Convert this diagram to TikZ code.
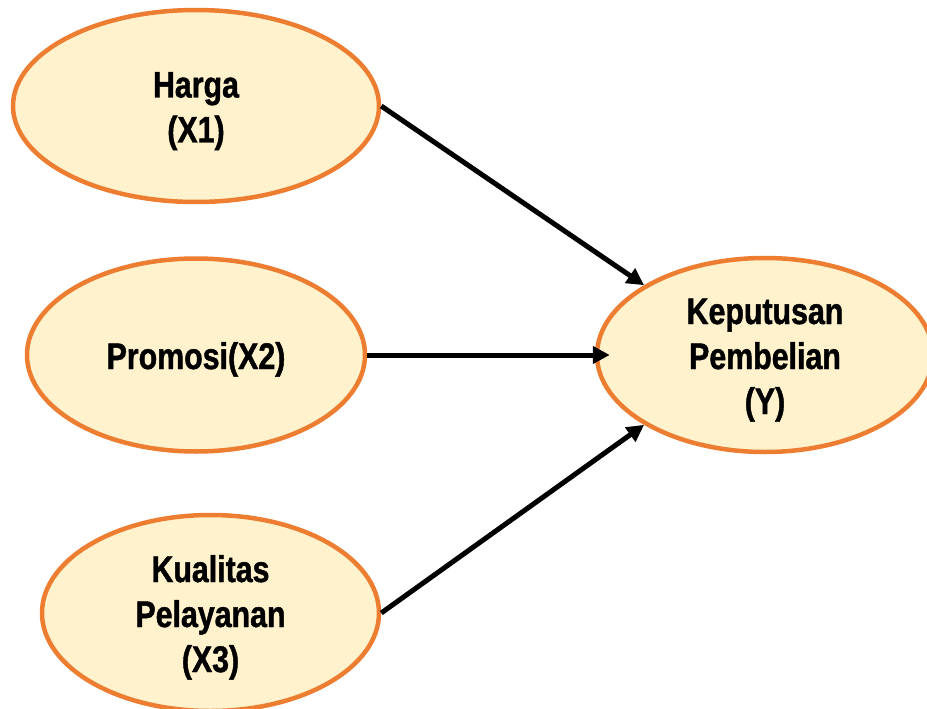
\documentclass[tikz,border=0pt]{standalone}
\usepackage{fontspec}
\newfontfamily\narrowfont[FakeStretch=0.82, BoldFeatures={FakeBold=1.2}]{Liberation Sans}
\usetikzlibrary{shapes.geometric,arrows.meta}
\definecolor{ellfill}{HTML}{FFF2CC}
\definecolor{elldraw}{HTML}{ED7D31}
\newcommand{\lbl}[1]{\raisebox{-5pt}[\height][\depth]{\begin{tabular}{@{}c@{}}#1\end{tabular}}}
\begin{document}
\begin{tikzpicture}[x=1pt,y=-1pt,
  varnode/.style={ellipse, draw=elldraw, fill=ellfill, line width=4.5pt, inner sep=0pt,
    align=center, font=\narrowfont\bfseries\fontsize{37}{45}\selectfont},
  link/.style={line width=5pt, -{Triangle[length=17pt,width=17pt]}}]
\useasboundingbox (0,0) rectangle (927,709);
\node[varnode, minimum width=366pt, minimum height=192pt] (h) at (196,106) {\lbl{Harga\\(X1)}};
\node[varnode, minimum width=338pt, minimum height=193pt] (p) at (196,355) {\lbl{Promosi(X2)}};
\node[varnode, minimum width=337pt, minimum height=196pt] (k) at (210.5,613) {\lbl{Kualitas\\Pelayanan\\(X3)}};
\node[varnode, minimum width=336pt, minimum height=194pt] (y) at (765,355) {\lbl{Keputusan\\Pembelian\\(Y)}};
\coordinate (ytip) at ([xshift=15pt]y.west);
\draw[link] (h.east) -- (y.150);
\draw[link] (p.east) -- (ytip);
\draw[link] (k.east) -- (y.210);
\end{tikzpicture}
\end{document}
